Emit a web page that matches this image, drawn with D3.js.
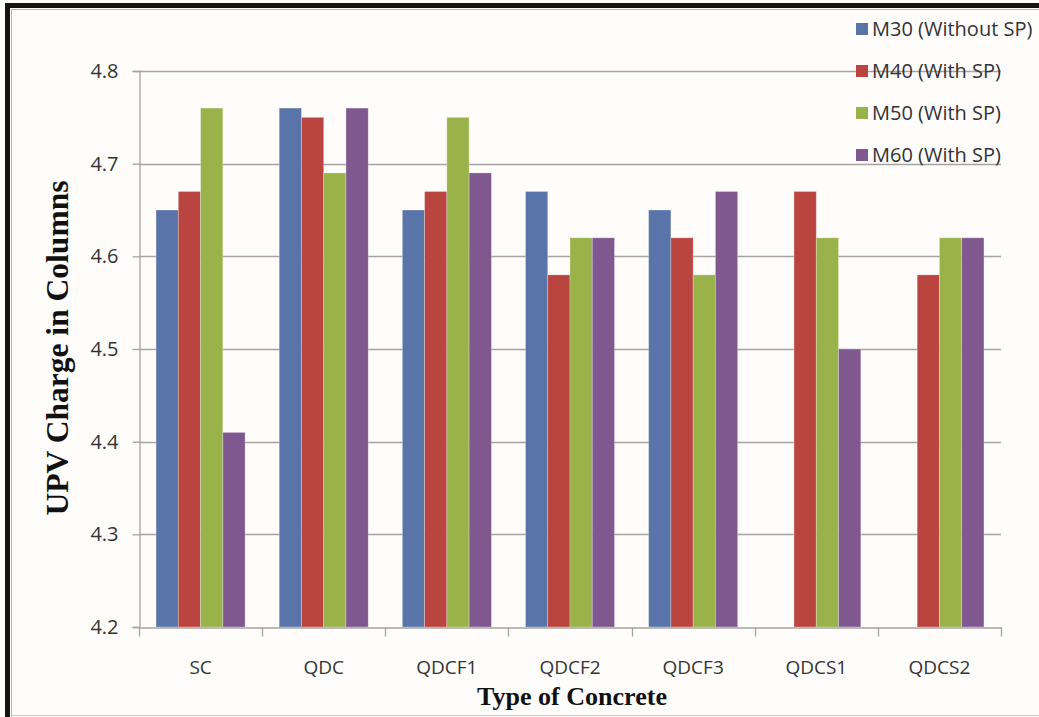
<!DOCTYPE html>
<html>
<head>
<meta charset="utf-8">
<script src="https://cdn.jsdelivr.net/npm/d3@7"></script>
<style>
  html, body { margin: 0; padding: 0; background: #ffffff; }
  svg { display: block; }
</style>
</head>
<body>
<svg id="chart" width="1039" height="717"></svg>
<script>
// UPV values for each concrete type and mix grade
const categories = ["SC", "QDC", "QDCF1", "QDCF2", "QDCF3", "QDCS1", "QDCS2"];
const seriesNames = ["M30 (Without SP)", "M40 (With SP)", "M50 (With SP)", "M60 (With SP)"];
const m30 = [4.65, 4.76, 4.65, 4.67, 4.65, null, null];
const m40 = [4.67, 4.75, 4.67, 4.58, 4.62, 4.67, 4.58];
const m50 = [4.76, 4.69, 4.75, 4.62, 4.58, 4.62, 4.62];
const m60 = [4.41, 4.76, 4.69, 4.62, 4.67, 4.50, 4.62];
const yTicks = [4.2, 4.3, 4.4, 4.5, 4.6, 4.7, 4.8];
const colors = ["#5874A8", "#BA4540", "#99B24A", "#7F5890"];

const seriesValues = [m30, m40, m50, m60];
const rows = categories.map((c, i) => ({
  cat: c,
  vals: seriesValues.map((s, k) => ({ key: seriesNames[k], k, v: s[i] }))
}));

const svg = d3.select("#chart");
const W = 1039, H = 717;
const plot = { left: 139, right: 1001, top: 71, bottom: 627 };

// Frame: heavy dark edges on top and left, light inner rule
svg.append("rect").attr("x", 0).attr("y", 0).attr("width", W).attr("height", H).attr("fill", "#fefdfc");
svg.append("rect").attr("x", 5).attr("y", 3).attr("width", W - 5).attr("height", 5).attr("fill", "#141414");
svg.append("rect").attr("x", 5).attr("y", 3).attr("width", 5).attr("height", H - 3).attr("fill", "#141414");
svg.append("line").attr("x1", 11.5).attr("x2", 11.5).attr("y1", 9).attr("y2", H).attr("stroke", "#b8b4b0").attr("stroke-width", 1);
svg.append("line").attr("x1", 11).attr("x2", W).attr("y1", 9.5).attr("y2", 9.5).attr("stroke", "#b8b4b0").attr("stroke-width", 1);
svg.append("line").attr("x1", 11).attr("x2", W).attr("y1", 715.5).attr("y2", 715.5).attr("stroke", "#c8c4c0").attr("stroke-width", 1);

const y = d3.scaleLinear().domain([4.2, 4.8]).range([plot.bottom, plot.top]);
const x0 = d3.scaleBand().domain(categories).range([plot.left, plot.right])
  .paddingInner(0.277).paddingOuter(0.1385);
const x1 = d3.scaleBand().domain(d3.range(seriesNames.length)).range([0, x0.bandwidth()]);

const tickFont = "'Open Sans', 'Liberation Sans', sans-serif";

// Horizontal gridlines
svg.append("g").selectAll("line").data(yTicks.filter(t => t > 4.2)).join("line")
  .attr("x1", plot.left).attr("x2", plot.right)
  .attr("y1", d => Math.round(y(d)) + 0.5).attr("y2", d => Math.round(y(d)) + 0.5)
  .attr("stroke", "#a6a3a0").attr("stroke-width", 1.3);

// Bars
svg.append("g").selectAll("g").data(rows).join("g")
  .attr("transform", d => `translate(${x0(d.cat)},0)`)
  .selectAll("rect").data(d => d.vals.filter(v => v.v != null)).join("rect")
  .attr("x", d => x1(d.k))
  .attr("y", d => y(d.v))
  .attr("width", x1.bandwidth())
  .attr("height", d => y(4.2) - y(d.v))
  .attr("fill", d => colors[d.k])
  .attr("stroke", "rgba(255,255,255,0.35)")
  .attr("stroke-width", 0.8);

// Y axis
const yAxis = svg.append("g").attr("transform", `translate(${plot.left + 0.5},0)`)
  .call(d3.axisLeft(y).tickValues(yTicks).tickFormat(d3.format(".1f")).tickSize(7).tickPadding(14));
yAxis.select(".domain").attr("stroke", "#a6a3a0").attr("stroke-width", 1.3);
yAxis.selectAll(".tick line").attr("stroke", "#a6a3a0").attr("stroke-width", 1.3);
yAxis.selectAll(".tick text").attr("font-family", tickFont).attr("font-size", 20).attr("fill", "#333");

// X axis
const xAxis = svg.append("g").attr("transform", `translate(0,${plot.bottom + 0.5})`)
  .call(d3.axisBottom(x0).tickSize(0).tickPadding(33));
xAxis.select(".domain").attr("stroke", "#a6a3a0").attr("stroke-width", 1.3);
xAxis.selectAll(".tick text").attr("font-family", tickFont).attr("font-size", 19).attr("fill", "#333");
// Category separators
const seps = d3.range(categories.length + 1).map(i => plot.left + i * x0.step());
xAxis.append("g").selectAll("line").data(seps).join("line")
  .attr("x1", d => Math.round(d) + 0.5).attr("x2", d => Math.round(d) + 0.5)
  .attr("y1", 0).attr("y2", 9)
  .attr("stroke", "#a6a3a0").attr("stroke-width", 1.3);

// Axis titles
svg.append("text")
  .attr("transform", `translate(68,348) rotate(-90)`)
  .attr("text-anchor", "middle")
  .attr("font-family", "'Liberation Serif', 'DejaVu Serif', serif")
  .attr("font-weight", "bold").attr("font-size", 31).attr("fill", "#111")
  .attr("textLength", 335).attr("lengthAdjust", "spacingAndGlyphs")
  .text("UPV Charge in Columns");
svg.append("text")
  .attr("x", 572).attr("y", 705)
  .attr("text-anchor", "middle")
  .attr("font-family", "'Liberation Serif', 'DejaVu Serif', serif")
  .attr("font-weight", "bold").attr("font-size", 26).attr("fill", "#111")
  .attr("textLength", 190).attr("lengthAdjust", "spacingAndGlyphs")
  .text("Type of Concrete");

// Legend
const legend = svg.append("g").selectAll("g").data(seriesNames).join("g")
  .attr("transform", (d, i) => `translate(856,${29 + i * 42})`);
legend.append("rect").attr("x", 0).attr("y", -6).attr("width", 12).attr("height", 12)
  .attr("fill", (d, i) => colors[i]);
legend.append("text").attr("x", 16).attr("y", 7)
  .attr("font-family", tickFont).attr("font-size", 20).attr("fill", "#333")
  .text(d => d);
</script>
</body>
</html>
